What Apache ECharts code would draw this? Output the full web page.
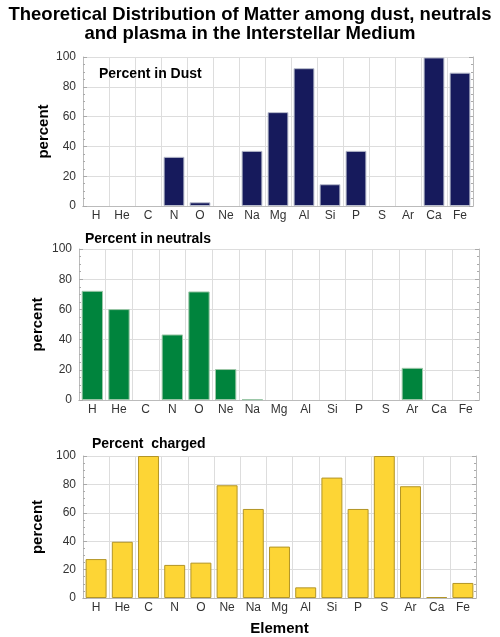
<!DOCTYPE html>
<html>
<head>
<meta charset="utf-8">
<script src="https://cdn.jsdelivr.net/npm/echarts@6/dist/echarts.min.js"></script>
<style>
html, body { margin: 0; padding: 0; background: #fff; }
#main { width: 500px; height: 637px; }
</style>
</head>
<body>
<div id="main"></div>
<script>
var elements = ['H', 'He', 'C', 'N', 'O', 'Ne', 'Na', 'Mg', 'Al', 'Si', 'P', 'S', 'Ar', 'Ca', 'Fe'];
var dust = [0, 0, 0, 33, 2.5, 0, 37, 63, 92.5, 14.6, 37, 0, 0, 99.7, 89.5];
var neutrals = [72.3, 60.2, 0, 43.4, 71.9, 20.5, 0.5, 0, 0, 0, 0, 0, 21.3, 0, 0];
var charged = [27.4, 39.6, 100, 23.3, 24.9, 79.4, 62.7, 36.2, 7.5, 84.8, 62.7, 100, 78.7, 0.7, 10.6];
var yTicks = [0, 20, 40, 60, 80, 100];

var font = 'Liberation Sans';
var chart = echarts.init(document.getElementById('main'));

// three stacked panels
var grids = [
    {left: 83, right: 27, top: 57, height: 149},
    {left: 79, right: 21, top: 249, height: 151},
    {left: 83, right: 24, top: 456, height: 147}
];
var panels = [
    {title: 'Percent in Dust', x: 94, y: 62, gap: 32, data: dust, color: '#161a5c', border: '#b8bccc'},
    {title: 'Percent in neutrals', x: 80, y: 227, gap: 34, data: neutrals, color: '#00843d', border: '#9cc7a8'},
    {title: 'Percent  charged', x: 87, y: 432, gap: 38, data: charged, color: '#fdd535', border: '#b39526'}
];

var titles = [{
    text: 'Theoretical Distribution of Matter among dust, neutrals\nand plasma in the Interstellar Medium',
    left: 'center', top: 0,
    textStyle: {fontFamily: font, fontSize: 18.5, fontWeight: 'bold', color: '#000', lineHeight: 19}
}];
var xAxes = [], yAxes = [], series = [];

panels.forEach(function (p, i) {
    titles.push({
        text: p.title, left: p.x, top: p.y,
        textStyle: {fontFamily: font, fontSize: 14, fontWeight: 'bold', color: '#000'}
    });
    xAxes.push({
        type: 'category', gridIndex: i, data: elements, position: 'bottom',
        name: i == 2 ? 'Element' : '', nameLocation: 'middle', nameGap: 23,
        nameTextStyle: {fontFamily: font, fontSize: 15, fontWeight: 'bold', color: '#000'},
        axisLine: {lineStyle: {color: '#bbb'}},
        axisTick: {inside: true, alignWithLabel: true, length: 3, lineStyle: {color: '#aaa'}},
        axisLabel: {fontFamily: font, fontSize: 12, color: '#333', margin: 4},
        splitLine: {show: true, lineStyle: {color: '#ddd'}}
    });
    xAxes.push({
        type: 'category', gridIndex: i, data: elements, position: 'top',
        axisLine: {lineStyle: {color: '#bbb'}},
        axisTick: {inside: true, alignWithLabel: true, length: 3, lineStyle: {color: '#aaa'}},
        axisLabel: {show: false}
    });
    yAxes.push({
        type: 'value', gridIndex: i, min: 0, max: 100, interval: 20, position: 'left',
        name: 'percent', nameLocation: 'middle', nameGap: p.gap, nameRotate: 90,
        nameMoveOverlap: false,
        nameTextStyle: {fontFamily: font, fontSize: 15, fontWeight: 'bold', color: '#000'},
        axisLine: {show: true, lineStyle: {color: '#bbb'}},
        axisTick: {show: true, inside: true, length: 4, lineStyle: {color: '#aaa'}},
        minorTick: {show: true, splitNumber: 4, length: 2, lineStyle: {color: '#aaa'}},
        axisLabel: {fontFamily: font, fontSize: 12, color: '#333', margin: 7,
            formatter: function (v) { return yTicks.indexOf(v) >= 0 ? v : ''; }},
        splitLine: {show: true, lineStyle: {color: '#ddd'}}
    });
    yAxes.push({
        type: 'value', gridIndex: i, min: 0, max: 100, interval: 20, position: 'right',
        axisLine: {show: true, lineStyle: {color: '#bbb'}},
        axisTick: {show: true, inside: true, length: 4, lineStyle: {color: '#aaa'}},
        minorTick: {show: true, splitNumber: 4, length: 2, lineStyle: {color: '#aaa'}},
        axisLabel: {show: false},
        splitLine: {show: false}
    });
    // no outline on empty bars
    var items = p.data.map(function (v) {
        return v > 0 ? v : {value: v, itemStyle: {borderWidth: 0}};
    });
    series.push({
        type: 'bar', xAxisIndex: i * 2, yAxisIndex: i * 2, data: items,
        barCategoryGap: '20%',
        itemStyle: {color: p.color, borderColor: p.border, borderWidth: 1},
        emphasis: {disabled: true}
    });
});

chart.setOption({
    animation: false,
    title: titles,
    grid: grids,
    xAxis: xAxes,
    yAxis: yAxes,
    series: series
});
</script>
</body>
</html>
